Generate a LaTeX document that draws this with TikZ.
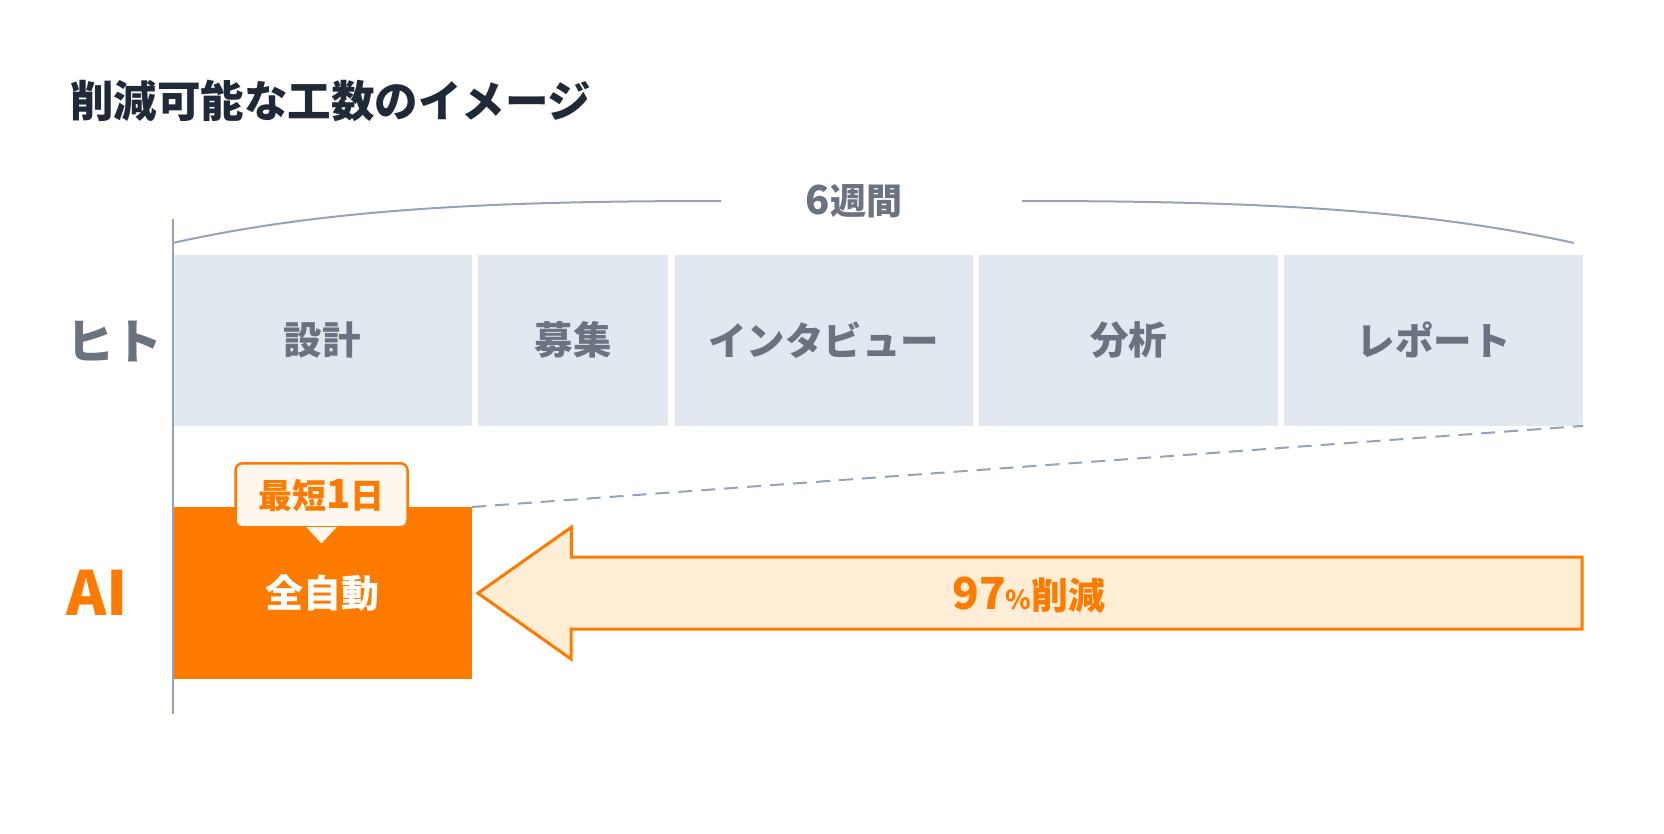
\documentclass[tikz,border=0pt]{standalone}
\usepackage{fontspec}
\setmainfont{Noto Sans CJK JP}
\usetikzlibrary{positioning}
\definecolor{titlecolor}{HTML}{1F2937}
\definecolor{humancolor}{HTML}{6B7280}
\definecolor{taskcolor}{HTML}{E2E8F0}
\definecolor{axiscolor}{HTML}{94A3B8}
\definecolor{aicolor}{HTML}{FF7B00}
\definecolor{arrowfill}{HTML}{FFEDD5}
\definecolor{calloutfill}{HTML}{FFF7ED}

\begin{document}
\begin{tikzpicture}[
    x=1pt, y=-1pt,
    title/.style={anchor=west, inner sep=0pt, text=titlecolor, font=\fontsize{43.5}{50}\selectfont\bfseries},
    rowlabel/.style={anchor=west, inner sep=0pt, font=\fontsize{48}{56}\selectfont\bfseries},
    task/.style={rectangle, fill=taskcolor, minimum height=171pt, inner sep=0pt, text=humancolor, font=\fontsize{38.5}{44}\selectfont\bfseries},
    aibox/.style={rectangle, fill=aicolor, minimum width=298.5pt, minimum height=172pt, inner sep=0pt, text=white, font=\fontsize{38}{44}\selectfont\bfseries},
    callout/.style={rectangle, draw=aicolor, line width=2.5pt, fill=calloutfill, rounded corners=7pt, minimum width=172pt, minimum height=64pt, inner sep=0pt, text=aicolor, font=\fontsize{34}{40}\selectfont\bfseries},
    weeks/.style={inner sep=0pt, text=humancolor, font=\fontsize{36}{42}\selectfont\bfseries},
    brace/.style={draw=axiscolor, line width=2pt},
    axis/.style={draw=axiscolor, line width=2pt},
    guide/.style={draw=axiscolor, line width=2pt, dash pattern=on 14pt off 9pt},
    cutarrow/.style={draw=aicolor, line width=3pt, fill=arrowfill, line join=miter},
    cutlabel/.style={inner sep=0pt, text=aicolor, font=\fontsize{37}{42}\selectfont\bfseries}
]
\useasboundingbox (0,0) rectangle (1664,833);

% Title
\node[title] (heading) at (70,101) {削減可能な工数のイメージ};

% Human tasks
\node[task, minimum width=298.5pt, anchor=north west] (design) at (173,254.5) {設計};
\node[task, minimum width=190pt, right=6pt of design] (recruit) {募集};
\node[task, minimum width=298.5pt, right=6pt of recruit] (interview) {インタビュー};
\node[task, minimum width=298.5pt, right=6pt of interview] (analysis) {分析};
\node[task, minimum width=298.5pt, right=6pt of analysis] (report) {レポート};

% Row labels
\node[rowlabel, text=humancolor] (human) at (66,341) {ヒト};
\node[rowlabel, text=aicolor, font=\fontsize{61}{66}\selectfont\bfseries] (ai) at (66,593) {AI};

% AI block
\node[aibox, anchor=north west] (auto) at (173,507) {全自動};
\node[callout, anchor=south] (fastest) at (321.5,528.5) {最短{\fontsize{40}{42}\selectfont 1}日};
\filldraw[draw=aicolor, line width=2.5pt, fill=calloutfill]
    ([xshift=-17pt,yshift=1.3pt]fastest.south) -- ([yshift=-17pt]fastest.south) -- ([xshift=17pt,yshift=1.3pt]fastest.south);

% 6 weeks brace
\node[weeks] (total) at (854,201) {{\fontsize{40}{42}\selectfont 6}週間};
\coordinate (braceL) at (172.5,243);
\coordinate (braceLend) at (721,201);
\coordinate (braceRstart) at (1022,201);
\coordinate (braceR) at (1574,243);
\draw[brace] (braceL) .. controls (330,208) and (500,201) .. (braceLend);
\draw[brace] (braceRstart) .. controls (1243,201) and (1416,208) .. (braceR);

% Axis
\coordinate (axtop) at (172.5,219);
\coordinate (axbot) at (172.5,714);
\draw[axis] (axtop) -- (axbot);

% Reduction
\draw[guide] (auto.north east) -- (report.south east);
\coordinate (tip) at ([xshift=6pt]auto.east);
\draw[cutarrow] (tip) -- ++(93.5,-66) -- ++(0,30) -- (1582,557) -- (1582,629) -- (571,629) -- ++(0,30) -- cycle;
\node[cutlabel] (cut) at (1029,595) {{\fontsize{44}{48}\selectfont 97}{\fontsize{26}{30}\selectfont\%}削減};

\end{tikzpicture}
\end{document}
